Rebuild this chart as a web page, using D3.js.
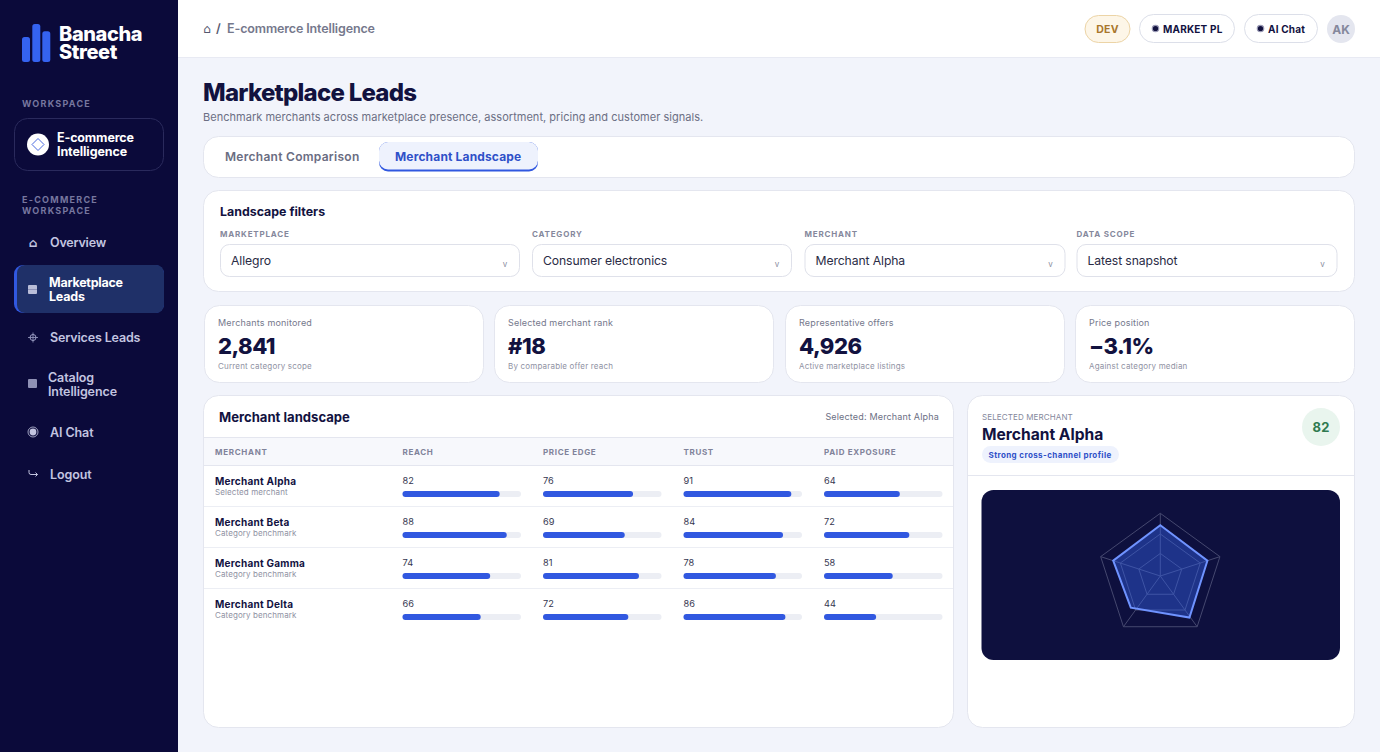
<!DOCTYPE html>
<html>
<head>
<meta charset="utf-8">
<script src="https://cdn.jsdelivr.net/npm/d3@7"></script>
<style>
html,body{margin:0;padding:0;background:#f2f4fb;overflow:hidden}
text{font-family:Inter,"Noto Sans",sans-serif}
</style>
</head>
<body>
<script>
// data
const filterLabels = ['MARKETPLACE', 'CATEGORY', 'MERCHANT', 'DATA SCOPE'];
const filterValues = ['Allegro', 'Consumer electronics', 'Merchant Alpha', 'Latest snapshot'];
const kpiLabels = ['Merchants monitored', 'Selected merchant rank', 'Representative offers', 'Price position'];
const kpiValues = ['2,841', '#18', '4,926', '\u22123.1%'];
const kpiNotes = ['Current category scope', 'By comparable offer reach', 'Active marketplace listings', 'Against category median'];
const columns = ['REACH', 'PRICE EDGE', 'TRUST', 'PAID EXPOSURE'];
const merchants = ['Merchant Alpha', 'Merchant Beta', 'Merchant Gamma', 'Merchant Delta'];
const merchantNotes = ['Selected merchant', 'Category benchmark', 'Category benchmark', 'Category benchmark'];
const reach = [82, 88, 74, 66];
const priceEdge = [76, 69, 81, 72];
const trust = [91, 84, 78, 86];
const paidExposure = [64, 72, 58, 44];
const radarAxes = ['Reach', 'Price edge', 'Trust', 'Paid exposure', 'Reviews'];
const radarValues = [81, 79, 81, 69, 79];
const radarLevels = [36, 67, 100];

const NAVY = '#0b0a3a', INK = '#12123f', BLUE = '#3158e0', LINE = '#e4e6ef';

const svg = d3.select('body').append('svg')
    .attr('width', 1380).attr('height', 752)
    .style('display', 'block');

function AddRect(sel, x, y, w, h, r, f, s, sw=1) {
    return sel.append('rect')
        .attr('x', x).attr('y', y).attr('width', w).attr('height', h)
        .attr('rx', r).attr('fill', f)
        .attr('stroke', s || 'none').attr('stroke-width', sw);
}

function AddText(sel, t, x, y, size, weight, fill, spacing=0, anchor='start') {
    return sel.append('text')
        .attr('x', x).attr('y', y)
        .attr('font-size', size).attr('font-weight', weight)
        .attr('fill', fill).attr('letter-spacing', spacing)
        .attr('text-anchor', anchor).text(t);
}

function Card(x, y, w, h) {
    return AddRect(svg, x+0.5, y+0.5, w-1, h-1, 15, '#fff', LINE);
}

// page background
AddRect(svg, 178, 0, 1202, 752, 0, '#f2f4fb');

// sidebar
const side = svg.append('g');
AddRect(side, 0, 0, 178, 752, 0, NAVY);
const logoScale = d3.scaleLinear().domain([0, 100]).range([62, 24]);
[[22, 66], [32.3, 100], [42.3, 81]].forEach(([x, v]) => {
    AddRect(side, x, logoScale(v), 8, 62 - logoScale(v), 2.5, '#3563f0');
});
const brand = AddText(side, '', 59, 41, 20, 800, '#fff', -0.4);
brand.append('tspan').attr('x', 59).text('Banacha');
brand.append('tspan').attr('x', 59).attr('dy', 18).text('Street');
AddText(side, 'WORKSPACE', 22, 107, 9, 700, '#77779f', 1.25);
AddRect(side, 14.5, 118.5, 149, 52, 13, 'none', '#2a2a5c');
side.append('circle').attr('cx', 38).attr('cy', 144.5).attr('r', 11).attr('fill', '#fff');
side.append('path').attr('d', 'M38 138.5L44 144.5L38 150.5L32 144.5Z').attr('fill', 'none').attr('stroke', '#4a6ae0').attr('stroke-width', 1);
AddText(side, 'E-commerce', 57, 142, 12.5, 700, '#fff', -0.15);
AddText(side, 'Intelligence', 57, 156, 12.5, 700, '#fff', -0.1);
AddText(side, 'E-COMMERCE', 22, 203, 9, 700, '#77779f', 1.25);
AddText(side, 'WORKSPACE', 22, 214, 9, 700, '#77779f', 1.25);

// active nav item
AddRect(side, 14, 265, 150, 48, 9, '#3158e0');
AddRect(side, 17, 265, 147, 48, 8, '#1f3068');
const navCol = '#c3c5e0';
AddText(side, '\u2302', 33, 246.5, 12, 700, navCol, 0, 'middle').style('font-family', 'DejaVu Sans');
AddText(side, 'Overview', 50, 246.5, 12.5, 600, navCol, -0.2);
AddRect(side, 28, 285, 9, 9, 1, '#b9bdd8');
side.append('line').attr('x1', 28).attr('x2', 37).attr('y1', 289.5).attr('y2', 289.5).attr('stroke', '#8f93b8');
AddText(side, 'Marketplace', 49, 287, 12.5, 700, '#fff', -0.25);
AddText(side, 'Leads', 49, 301, 12.5, 700, '#fff', -0.2);
side.append('circle').attr('cx', 33).attr('cy', 337.5).attr('r', 3).attr('fill', 'none').attr('stroke', '#9c9ec4');
side.append('path').attr('d', 'M28 337.5H38M33 332.5V342.5').attr('stroke', '#9c9ec4').attr('stroke-width', 0.8);
AddText(side, 'Services Leads', 50, 341.5, 12.5, 600, navCol, -0.15);
AddRect(side, 28, 379, 9, 9, 1, '#8f91b5');
AddText(side, 'Catalog', 48, 382, 12.5, 600, navCol, -0.1);
AddText(side, 'Intelligence', 48, 396, 12.5, 600, navCol, -0.1);
side.append('circle').attr('cx', 33).attr('cy', 432).attr('r', 5).attr('fill', 'none').attr('stroke', navCol).attr('stroke-width', 0.8);
side.append('circle').attr('cx', 33).attr('cy', 432).attr('r', 3.4).attr('fill', navCol);
AddText(side, 'AI Chat', 50, 437, 12.5, 600, navCol, -0.1);
side.append('path').attr('d', 'M29 470V472.5Q29 474.5 31 474.5H37.5M35.5 472.5L37.5 474.5L35.5 476.5')
    .attr('fill', 'none').attr('stroke', navCol).attr('stroke-width', 1);
AddText(side, 'Logout', 50, 479, 12.5, 600, navCol, -0.1);

// top bar
AddRect(svg, 178, 0, 1202, 57, 0, '#fff');
svg.append('line').attr('x1', 178).attr('x2', 1380).attr('y1', 57.5).attr('y2', 57.5).attr('stroke', '#e8eaf3');
AddText(svg, '\u2302', 207, 33, 12, 400, '#55586f', 0, 'middle').style('font-family', 'DejaVu Sans');
AddText(svg, '/', 216, 33, 12.5, 600, '#55586f');
AddText(svg, 'E-commerce Intelligence', 227, 33, 12.5, 600, '#75788c', -0.13);
AddRect(svg, 1085, 15.5, 45, 27, 13.5, '#fdf6e8', '#ecd4a6');
AddText(svg, 'DEV', 1107.5, 33, 10.5, 700, '#a9772c', 0.3, 'middle');
AddRect(svg, 1139.5, 14.5, 95, 28, 14, '#fff', '#dcdfe9');
svg.append('circle').attr('cx', 1155.5).attr('cy', 28.5).attr('r', 3.2).attr('fill', INK).attr('stroke', '#9a9ab5').attr('stroke-width', 1.2);
AddText(svg, 'MARKET PL', 1163, 32.5, 10, 700, INK, 0.2);
AddRect(svg, 1244.5, 14.5, 73, 28, 14, '#fff', '#dcdfe9');
svg.append('circle').attr('cx', 1260.5).attr('cy', 28.5).attr('r', 3.2).attr('fill', INK).attr('stroke', '#9a9ab5').attr('stroke-width', 1.2);
AddText(svg, 'AI Chat', 1268, 32.5, 10, 700, INK, 0.2);
svg.append('circle').attr('cx', 1341).attr('cy', 29).attr('r', 14).attr('fill', '#e4e6ef');
AddText(svg, 'AK', 1341, 33.5, 12, 700, '#85889c', 0, 'middle');

// heading
AddText(svg, 'Marketplace Leads', 203, 101, 24, 800, INK, -0.75);
AddText(svg, 'Benchmark merchants across marketplace presence, assortment, pricing and customer signals.', 203, 121, 11, 400, '#6c6f84', 0.03);

// tabs
Card(203, 136, 1152, 42);
AddText(svg, 'Merchant Comparison', 225, 161, 12, 600, '#6a6d82', 0.28);
AddRect(svg, 379, 142, 159, 29.5, 9, BLUE);
AddRect(svg, 379, 142, 159, 27.5, 9, '#eef2fd');
AddText(svg, 'Merchant Landscape', 395, 161, 12, 700, '#2f50c8', 0.16);

// filters
Card(203, 190, 1152, 102);
AddText(svg, 'Landscape filters', 220, 216, 12.4, 700, INK, 0);
const filterX = [220, 532, 804.5, 1076.5];
const filterW = [300, 260, 261, 261];
filterLabels.forEach((d, i) => {
    AddText(svg, d, filterX[i], 237, 8, 700, '#85889c', 0.8);
    AddRect(svg, filterX[i]+0.5, 244.5, filterW[i]-1, 32, 9, '#fff', '#dfe1ea');
    AddText(svg, filterValues[i], filterX[i]+11, 265, 12.2, 400, '#2a2b45', -0.1);
    AddText(svg, 'v', filterX[i]+filterW[i]-15, 267, 8, 400, '#8a8da0', 0, 'middle');
});

// kpi cards
const kpiX = [204, 494, 785, 1075];
const kpiW = [280, 280, 280, 280];
kpiLabels.forEach((d, i) => {
    Card(kpiX[i], 305, kpiW[i], 78);
    AddText(svg, d, kpiX[i]+14, 326, 9, 400, '#75788c', 0.18);
    AddText(svg, kpiValues[i], kpiX[i]+14, 354, 22, 800, INK, -0.5);
    AddText(svg, kpiNotes[i], kpiX[i]+14, 369, 8, 400, '#8f92a3', 0.18);
});

// table card
Card(203, 395, 751, 333);
AddText(svg, 'Merchant landscape', 219, 422, 13.1, 700, INK, 0);
AddText(svg, 'Selected: Merchant Alpha', 939, 420, 9, 400, '#6c6f84', 0.17, 'end');
AddRect(svg, 204, 438, 749, 28, 0, '#f7f8fc');
svg.append('path').attr('d', 'M204 437.5H953M204 465.5H953').attr('stroke', LINE);
AddText(svg, 'MERCHANT', 215, 455, 8, 700, '#80839a', 0.7);
const colX = [402.5, 543, 683.5, 824];
columns.forEach((d, i) => AddText(svg, d, colX[i], 455, 8, 700, '#80839a', 0.65));

const rowY = d3.scaleBand().domain(merchants).range([466, 630]);
const barX = d3.scaleLinear().domain([0, 100]).range([0, 118.5]);
const series = [reach, priceEdge, trust, paidExposure];
merchants.forEach((m, r) => {
    const y = rowY(m);
    AddText(svg, m, 215, y+18.5, 10, 700, INK, 0.25);
    AddText(svg, merchantNotes[r], 215, y+29, 8, 400, '#8f92a3', 0.1);
    if (r < 3) svg.append('line').attr('x1', 204).attr('x2', 953).attr('y1', y+40.5).attr('y2', y+40.5).attr('stroke', '#eceef4');
    series.forEach((s, c) => {
        AddText(svg, s[r], colX[c], y+18, 9.2, 400, '#35364f', 0);
        AddRect(svg, colX[c], y+25, barX(100), 6, 3, '#eceef4');
        AddRect(svg, colX[c], y+25, barX(s[r]), 6, 3, BLUE);
    });
});

// selected merchant card
Card(967, 395, 388, 333);
AddText(svg, 'SELECTED MERCHANT', 982, 420, 8, 400, '#85889c', 0.12);
AddText(svg, 'Merchant Alpha', 982, 439.5, 15.6, 700, INK, 0);
AddRect(svg, 982, 446, 137, 17, 8.5, '#eef2fd');
AddText(svg, 'Strong cross-channel profile', 988.5, 458, 8, 700, '#2f50c8', 0.4);
svg.append('circle').attr('cx', 1321).attr('cy', 427).attr('r', 19).attr('fill', '#e9f5ee');
AddText(svg, '82', 1321, 431.5, 13, 700, '#2f7a50', 0.3, 'middle');
svg.append('line').attr('x1', 968).attr('x2', 1354).attr('y1', 475.5).attr('y2', 475.5).attr('stroke', LINE);

// radar
AddRect(svg, 981.5, 490, 358.5, 170, 12, '#0e103e');
const radarG = svg.append('g').attr('transform', 'translate(1160.3,576)');
const radarR = d3.scaleLinear().domain([0, 100]).range([0, 62.7]);
const angle = d3.scalePoint().domain(radarAxes).range([0, 2*Math.PI*4/5]);
const radarLine = d3.lineRadial().angle((d, i) => angle(radarAxes[i])).radius(d => radarR(d)).curve(d3.curveLinearClosed);
radarLevels.forEach(l => {
    radarG.append('path').attr('d', radarLine(radarAxes.map(() => l)))
        .attr('fill', 'none').attr('stroke', '#45486f').attr('stroke-width', 1);
});
radarAxes.forEach(a => {
    radarG.append('path').attr('d', d3.lineRadial()([[0, 0], [angle(a), radarR(100)]]))
        .attr('stroke', '#45486f').attr('stroke-width', 1);
});
// the profile's vertices sit slightly off the grid spokes in the original
const profileTurn = [0, 0, 1, 7, 0];
const profileLine = d3.lineRadial()
    .angle((d, i) => angle(radarAxes[i]) + profileTurn[i]*Math.PI/180)
    .radius(d => radarR(d))
    .curve(d3.curveLinearClosed);
radarG.append('path').attr('d', profileLine(radarValues))
    .attr('fill', '#3563f0').attr('fill-opacity', 0.42)
    .attr('stroke', '#6f93ff').attr('stroke-width', 2);
</script>
</body>
</html>
